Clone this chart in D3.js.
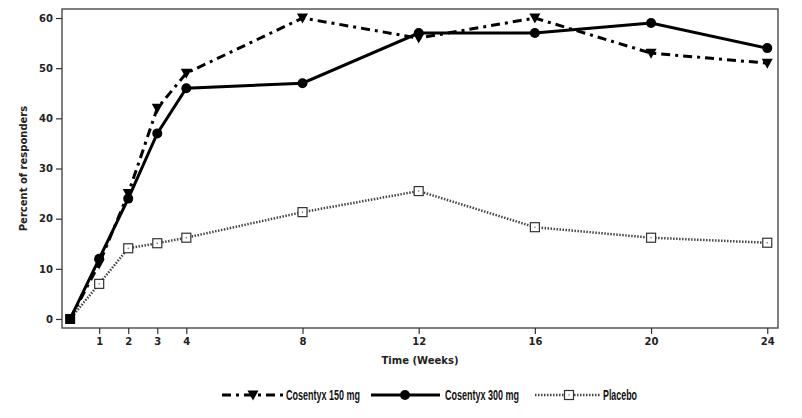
<!DOCTYPE html>
<html>
<head>
<meta charset="utf-8">
<script src="https://cdn.jsdelivr.net/npm/d3@7"></script>
<style>
  body { margin: 0; background: #fff; }
  svg { display: block; }
</style>
</head>
<body>
<div id="chart"></div>
<script>
// datos
const semanas = [0, 1, 2, 3, 4, 8, 12, 16, 20, 24];
const cosentyx150 = [0, 11, 25, 42, 49, 60, 56, 60, 53, 51];
const cosentyx300 = [0, 12, 24, 37, 46, 47, 57, 57, 59, 54];
const placebo = [0, 7, 14.1, 15.1, 16.2, 21.3, 25.5, 18.3, 16.2, 15.2];
const xTicks = [1, 2, 3, 4, 8, 12, 16, 20, 24];
const yTicks = [0, 10, 20, 30, 40, 50, 60];

const width = 802, height = 418;
const margin = { top: 9, right: 24, bottom: 90, left: 62 };
const w = width - margin.left - margin.right;
const h = height - margin.top - margin.bottom;

const svg = d3.select("#chart")
    .append("svg")
    .attr("width", width)
    .attr("height", height);

const g = svg.append("g")
    .attr("transform", `translate(${margin.left},${margin.top})`);

const xScale = d3.scaleLinear()
    .domain([-0.28, 24.37])
    .range([0, w]);

const yScale = d3.scaleLinear()
    .domain([-1.8, 61.8])
    .range([h, 0]);

// marco
g.append("rect")
    .attr("x", 0).attr("y", 0)
    .attr("width", w).attr("height", h)
    .attr("fill", "none")
    .attr("stroke", "#555")
    .attr("stroke-width", 1.5);

const tickFont = "'DejaVu Sans', sans-serif";

// Eje X
const xAxis = g.append("g")
    .attr("transform", `translate(0,${h})`)
    .call(d3.axisBottom(xScale).tickValues(xTicks).tickSize(6).tickSizeOuter(0).tickPadding(4));
xAxis.select(".domain").remove();
xAxis.selectAll("line").attr("stroke", "#333").attr("stroke-width", 1.2);
xAxis.selectAll("text")
    .style("font-family", tickFont)
    .style("font-size", "10px")
    .style("font-weight", "bold")
    .attr("fill", "#222");

// Eje Y
const yAxis = g.append("g")
    .call(d3.axisLeft(yScale).tickValues(yTicks).tickSize(6).tickSizeOuter(0).tickPadding(3));
yAxis.select(".domain").remove();
yAxis.selectAll("line").attr("stroke", "#333").attr("stroke-width", 1.2);
yAxis.selectAll("text")
    .style("font-family", tickFont)
    .style("font-size", "10px")
    .style("font-weight", "bold")
    .attr("fill", "#222");

// titulos de ejes
svg.append("text")
    .attr("x", margin.left + w / 2)
    .attr("y", 364)
    .attr("text-anchor", "middle")
    .style("font-family", tickFont)
    .style("font-size", "10px")
    .style("font-weight", "bold")
    .attr("fill", "#222")
    .text("Time (Weeks)");

svg.append("text")
    .attr("transform", `translate(27,${margin.top + h / 2}) rotate(-90)`)
    .attr("text-anchor", "middle")
    .style("font-family", tickFont)
    .style("font-size", "10px")
    .style("font-weight", "bold")
    .attr("fill", "#222")
    .text("Percent of responders");

const series = [
    { name: "Cosentyx 150 mg", values: cosentyx150, dash: "9,5,3,5", width: 3, marker: "triangle" },
    { name: "Cosentyx 300 mg", values: cosentyx300, dash: null, width: 3, marker: "circle" },
    { name: "Placebo", values: placebo, dash: "1.5,1.5", width: 2.5, marker: "square" }
];

const line = d3.line()
    .x((d, i) => xScale(semanas[i]))
    .y(d => yScale(d));

function drawMarker(sel, tipo, cx, cy) {
    if (tipo === "triangle") {
        sel.append("path")
            .attr("d", `M${cx - 5.5},${cy - 4.5}L${cx + 5.5},${cy - 4.5}L${cx},${cy + 5.5}Z`)
            .attr("fill", "#000");
    } else if (tipo === "circle") {
        sel.append("circle")
            .attr("cx", cx).attr("cy", cy).attr("r", 5)
            .attr("fill", "#000");
    } else {
        sel.append("rect")
            .attr("x", cx - 4.5).attr("y", cy - 4.5)
            .attr("width", 9).attr("height", 9)
            .attr("fill", "#fff")
            .attr("stroke", "#333")
            .attr("stroke-width", 1.2);
        sel.append("rect")
            .attr("x", cx - 0.6).attr("y", cy - 0.6)
            .attr("width", 1.2).attr("height", 1.2)
            .attr("fill", "#555");
    }
}

// dibujar en orden: placebo, 300, 150
[series[2], series[1], series[0]].forEach(s => {
    g.append("path")
        .datum(s.values)
        .attr("fill", "none")
        .attr("stroke", s.marker === "square" ? "#444" : "#000")
        .attr("stroke-width", s.width)
        .attr("stroke-dasharray", s.dash)
        .attr("d", line);
    const mg = g.append("g");
    s.values.forEach((v, i) => {
        if (i === 0) return;
        drawMarker(mg, s.marker, xScale(semanas[i]), yScale(v));
    });
});

// punto en el origen (cuadrado negro)
g.append("rect")
    .attr("x", xScale(semanas[0]) - 5).attr("y", yScale(0) - 5)
    .attr("width", 10).attr("height", 10)
    .attr("fill", "#000");

// Leyenda (texto estrecho, como en la figura)
const legendFont = "'Liberation Sans', Arial, sans-serif";
const legend = [
    { s: series[0], x1: 222, x2: 283, mx: 253, tx: 286, len: 74 },
    { s: series[1], x1: 371, x2: 440, mx: 405, tx: 445, len: 74 },
    { s: series[2], x1: 535, x2: 600, mx: 569, tx: 603, len: 34 }
];
const ly = 395;
legend.forEach(l => {
    svg.append("line")
        .attr("x1", l.x1).attr("x2", l.x2)
        .attr("y1", ly).attr("y2", ly)
        .attr("stroke", l.s.marker === "square" ? "#444" : "#000")
        .attr("stroke-width", l.s.width)
        .attr("stroke-dasharray", l.s.dash);
    drawMarker(svg, l.s.marker, l.mx, ly);
    svg.append("text")
        .attr("x", l.tx)
        .attr("y", ly + 5)
        .attr("textLength", l.len)
        .attr("lengthAdjust", "spacingAndGlyphs")
        .style("font-family", legendFont)
        .style("font-size", "14px")
        .style("font-weight", "bold")
        .attr("fill", "#111")
        .text(l.s.name);
});
</script>
</body>
</html>
